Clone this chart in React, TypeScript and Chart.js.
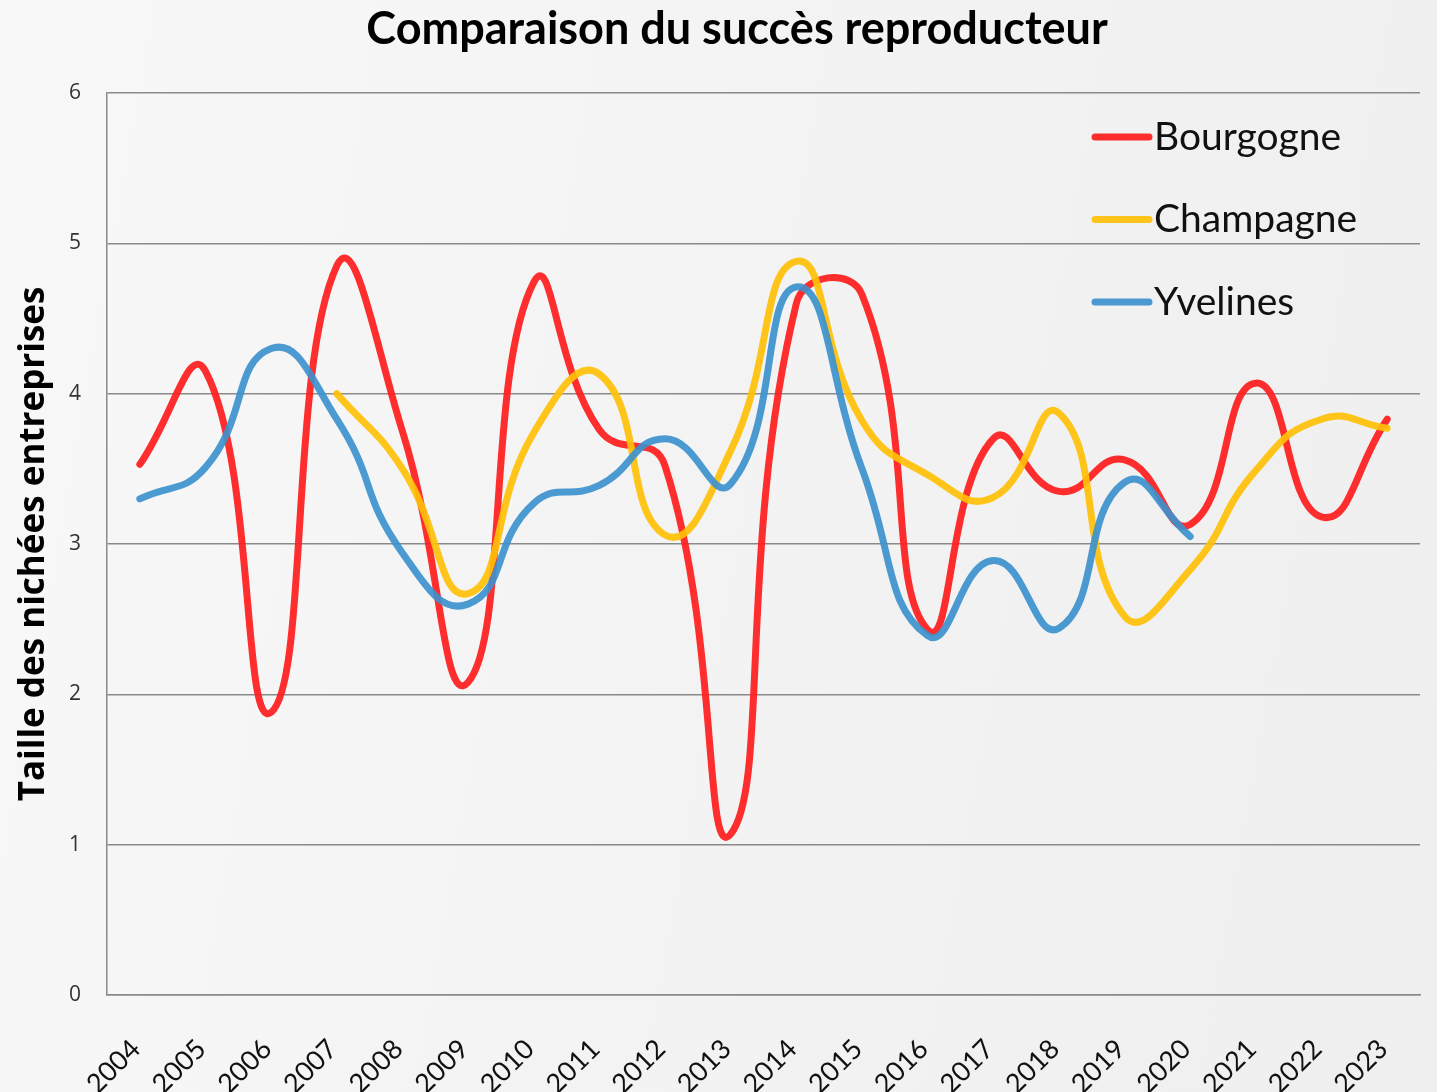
import React, { useEffect, useRef } from "react";
import { Chart, registerables } from "chart.js";

Chart.register(...registerables);

const YEARS = [
  "2004", "2005", "2006", "2007", "2008", "2009", "2010", "2011", "2012", "2013",
  "2014", "2015", "2016", "2017", "2018", "2019", "2020", "2021", "2022", "2023",
];
const BOURGOGNE = [3.53, 4.15, 1.88, 4.85, 3.75, 2.08, 4.74, 3.76, 3.52, 1.07, 4.6, 4.66, 2.43, 3.7, 3.35, 3.56, 3.13, 4.07, 3.18, 3.83];
const CHAMPAGNE = [null, null, null, 4.0, 3.5, 2.67, 3.74, 4.13, 3.06, 3.62, 4.88, 3.82, 3.46, 3.31, 3.87, 2.52, 2.83, 3.49, 3.83, 3.77];
const YVELINES = [3.3, 3.51, 4.3, 3.83, 2.94, 2.6, 3.27, 3.39, 3.7, 3.4, 4.71, 3.5, 2.39, 2.89, 2.44, 3.41, 3.05, null, null, null];
const SERIES_NAMES = ["Bourgogne", "Champagne", "Yvelines"];
const TITLE = "Comparaison du succès reproducteur";
const Y_TITLE = "Taille des nichées entreprises";
const Y_MIN = 0;
const Y_MAX = 6;
const Y_STEP = 1;

const COLORS = ["rgba(255,30,30,0.93)", "rgba(255,192,8,0.92)", "rgba(60,145,205,0.92)"];

const titlePlugin = {
  id: "customTitle",
  afterDraw(chart: any) {
    const ctx = chart.ctx;
    ctx.save();
    ctx.font = "bold 45px Lato";
    ctx.fillStyle = "#000";
    ctx.textAlign = "center";
    ctx.textBaseline = "middle";
    ctx.fillText(TITLE, 737, 29);
    ctx.restore();
  },
};

const legendPlugin = {
  id: "customLegend",
  afterDraw(chart: any) {
    const ctx = chart.ctx;
    const area = chart.chartArea;
    ctx.save();
    chart.data.datasets.forEach((ds: any, i: number) => {
      const y = area.top + 44 + i * 82.5;
      const x0 = area.right - 325;
      ctx.strokeStyle = ds.borderColor;
      ctx.lineWidth = 7;
      ctx.lineCap = "round";
      ctx.beginPath();
      ctx.moveTo(x0, y);
      ctx.lineTo(x0 + 54, y);
      ctx.stroke();
      ctx.font = "39px Lato";
      ctx.fillStyle = "#111";
      ctx.textAlign = "left";
      ctx.textBaseline = "middle";
      ctx.fillText(ds.label, x0 + 59, y);
    });
    ctx.restore();
  },
};

export default function App() {
  const canvasRef = useRef<HTMLCanvasElement | null>(null);

  useEffect(() => {
    const canvas = canvasRef.current;
    if (!canvas) return;
    const seriesData = [BOURGOGNE, CHAMPAGNE, YVELINES];
    const chart = new Chart(canvas, {
      type: "line",
      data: {
        labels: YEARS,
        datasets: seriesData.map((d, i) => ({
          label: SERIES_NAMES[i],
          data: d,
          borderColor: COLORS[i],
          backgroundColor: COLORS[i],
          borderWidth: 7,
          pointRadius: 0,
          tension: 0.5,
          borderCapStyle: "round",
          borderJoinStyle: "round",
          fill: false,
          order: 2 - i,
        })),
      },
      options: {
        animation: false,
        responsive: false,
        maintainAspectRatio: false,
        layout: { padding: { top: 93, right: 17, left: 0, bottom: 0 } },
        plugins: {
          legend: { display: false },
          title: { display: false },
          tooltip: { enabled: false },
        },
        scales: {
          x: {
            offset: true,
            grid: { display: false, drawTicks: false },
            border: { display: true, color: "#8a8a8a", width: 1.5 },
            ticks: {
              autoSkip: false,
              maxRotation: 45,
              minRotation: 45,
              padding: 38,
              labelOffset: -4,
              color: "#111",
              font: { family: "Lato", size: 27 },
            },
            afterFit(scale: any) {
              scale.height = 97;
              scale.paddingLeft = 0;
              scale.paddingRight = 0;
            },
          },
          y: {
            min: Y_MIN,
            max: Y_MAX,
            grid: { color: "#8a8a8a", lineWidth: 1.5, drawTicks: false },
            border: { display: true, color: "#8a8a8a", width: 1.5 },
            ticks: {
              stepSize: Y_STEP,
              padding: 26,
              color: "#333",
              font: { family: "Open Sans", size: 21 },
            },
            title: {
              display: true,
              text: Y_TITLE,
              color: "#000",
              font: { family: "Open Sans", size: 35, weight: "bold" },
              padding: { top: 13, bottom: 0 },
            },
            afterFit(scale: any) {
              scale.width = 107;
            },
          },
        },
      },
      plugins: [titlePlugin, legendPlugin],
    } as any);
    return () => chart.destroy();
  }, []);

  return (
    <div
      style={{
        position: "absolute",
        left: 0,
        top: 0,
        width: 1437,
        height: 1092,
        background: "linear-gradient(100deg, #f8f8f8 0%, #f3f3f3 50%, #efefef 100%)",
        overflow: "hidden",
      }}
    >
      <canvas ref={canvasRef} width={1437} height={1092} style={{ display: "block" }} />
    </div>
  );
}
